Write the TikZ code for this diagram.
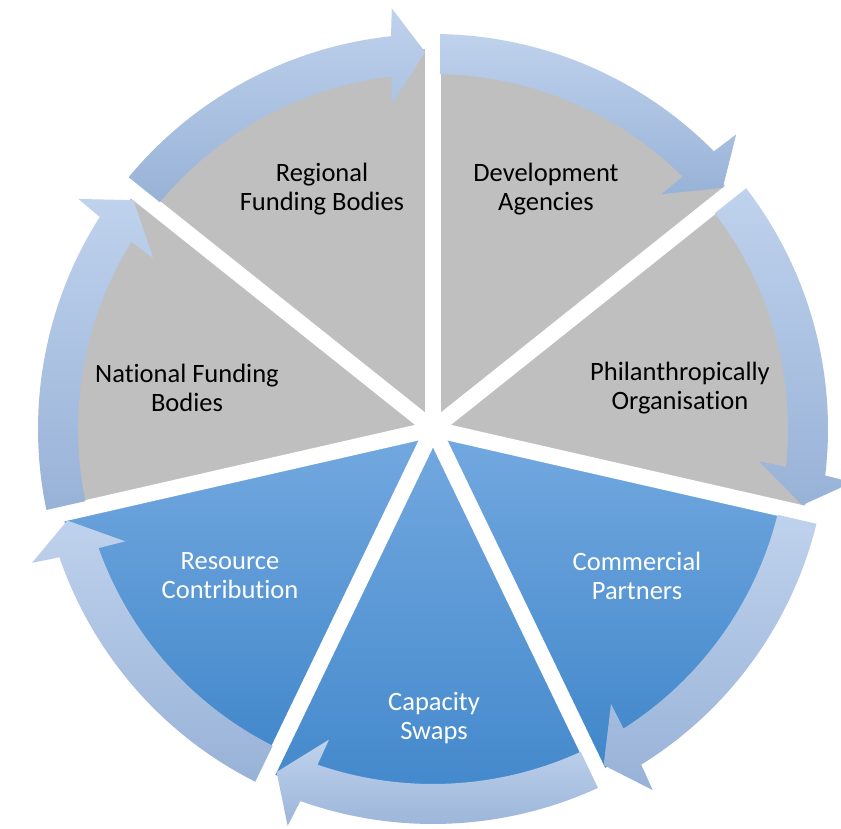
\documentclass[tikz,border=0pt]{standalone}
\usepackage{fontspec}
\setmainfont{Carlito}[Ligatures={NoCommon,NoContextual}]
\definecolor{segGrey}{HTML}{BFBFBF}
\definecolor{segBlueTop}{HTML}{74A9E0}
\definecolor{segBlueBot}{HTML}{3F86CA}
\definecolor{arrTop}{HTML}{BFD2ED}
\definecolor{arrBot}{HTML}{98B2D7}
% wedge: #1 = clockwise end angle, #2 = style
\newcommand\cycWedge[2]{%
  \path[#2] (0,0) -- ({#1+51.4286}:380pt)
    arc[start angle={#1+51.4286}, end angle={#1}, radius=380pt] -- cycle;}
% circular arrow: #1 = clockwise end angle
\newcommand\cycArrow[1]{%
  \path[arrowband] ({#1+50.4}:395pt)
    arc[start angle={#1+50.4}, end angle={#1+6.1}, radius=395pt]
    -- ({#1+5.6}:422.7pt) -- ({#1+1.2}:377pt) -- ({#1+7.2}:327.6pt)
    -- ({#1+6.74}:355pt)
    arc[start angle={#1+6.74}, end angle={#1+50.3}, radius=355pt] -- cycle;}
\begin{document}
\begin{tikzpicture}[x=1pt,y=1pt,
  greyseg/.style={fill=segGrey},
  blueseg/.style={top color=segBlueTop,bottom color=segBlueBot},
  arrowband/.style={top color=arrTop,bottom color=arrBot},
  gapline/.style={white,line width=16pt},
  lbl/.style={font=\fontsize{26.5pt}{29pt}\selectfont, align=center, text=black},
  lblw/.style={lbl,text=white}]
\fill[white] (0,0) rectangle (841,829);
\useasboundingbox (0,0) rectangle (841,829);
\begin{scope}[shift={(433,400)}]
  \cycWedge{90}{greyseg}
  \cycWedge{38.5714}{greyseg}
  \cycWedge{-12.8571}{greyseg}
  \cycWedge{-64.2857}{blueseg}
  \cycWedge{-115.7143}{blueseg}
  \cycWedge{-167.1429}{blueseg}
  \cycWedge{-218.5714}{greyseg}
  \foreach \e in {90,38.5714,-12.8571,-64.2857,-115.7143,-167.1429,-218.5714}
    {\draw[gapline] (0,0) -- (\e:440pt);}
  \foreach \e in {90,38.5714,-12.8571,-64.2857,-115.7143,-167.1429,-218.5714}
    {\cycArrow{\e}}
\end{scope}
\node[lbl]  (regional)  at (322,640) {Regional\\Funding Bodies};
\node[lbl]  (develop)   at (546,640) {Development\\Agencies};
\node[lbl]  (philan)    at (680,441) {Philanthropically\\Organisation};
\node[lblw] (commerc)   at (637,253) {Commercial\\Partners};
\node[lblw] (capacity)  at (434,111) {Capacity\\Swaps};
\node[lblw] (resource)  at (230,253) {Resource\\Contribution};
\node[lbl]  (national)  at (187,441) {National Funding\\Bodies};
\end{tikzpicture}
\end{document}
